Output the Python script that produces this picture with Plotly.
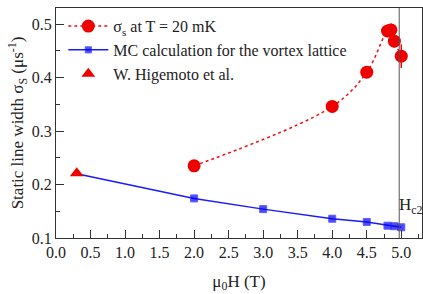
import plotly.graph_objects as go

# data
field_sigma = [2.0, 4.0, 4.5, 4.8, 4.85, 4.9, 5.0]
sigma_s = [0.235, 0.346, 0.410, 0.487, 0.489, 0.468, 0.440]
sigma_err = [0.006, 0.008, 0.010, 0.012, 0.012, 0.012, 0.022]

field_mc = [0.3, 2.0, 3.0, 4.0, 4.5, 4.8, 4.9, 5.0]
sigma_mc = [0.220, 0.174, 0.154, 0.136, 0.130, 0.123, 0.122, 0.120]

field_hig = [0.3]
sigma_hig = [0.221]

hc2 = 4.97

font = "Liberation Serif"

fig = go.Figure()
fig.add_trace(go.Scatter(
    x=field_sigma, y=sigma_s, mode="lines+markers",
    name="σ<sub>s</sub> at T = 20 mK",
    line=dict(color="#ee1111", width=1.5, dash="dot", shape="spline"),
    marker=dict(symbol="circle", color="#ee0000", size=13),
    error_y=dict(type="data", array=sigma_err, color="#ee0000", thickness=1.5, width=0),
))
fig.add_trace(go.Scatter(
    x=field_mc, y=sigma_mc, mode="lines+markers",
    name="MC calculation for the vortex lattice",
    line=dict(color="#1a1aff", width=1.5),
    marker=dict(symbol="square", color="#0000ee",
                size=[0] + [7] * (len(field_mc) - 1)),
))
fig.add_trace(go.Scatter(
    x=field_hig, y=sigma_hig, mode="markers",
    name="W. Higemoto et al.",
    marker=dict(symbol="triangle-up", color="#ee0000", size=12),
))

fig.add_shape(type="line", x0=hc2, x1=hc2, y0=0, y1=1, xref="x", yref="paper",
              line=dict(color="#555555", width=1))
fig.add_annotation(x=hc2, y=0.16, xref="x", yref="y", text="H<sub>c2</sub>",
                   showarrow=False, xanchor="left", yanchor="middle", xshift=-2,
                   font=dict(family=font, size=17, color="#222"))

fig.update_layout(
    width=423, height=294,
    margin=dict(l=56, r=1, t=8, b=56),
    paper_bgcolor="white", plot_bgcolor="white",
    font=dict(family=font, size=14, color="#222"),
    legend=dict(x=0.02, y=0.995, xanchor="left", yanchor="top",
                bgcolor="rgba(0,0,0,0)", traceorder="normal",
                font=dict(family=font, size=16), tracegroupgap=0,
                itemwidth=40),
    showlegend=True,
)
fig.update_xaxes(
    range=[0, 5.3], dtick=0.5, tick0=0, tickformat=".1f",
    showline=True, linecolor="#333", linewidth=1.2, mirror=True,
    ticks="inside", ticklen=8, tickcolor="#333",
    minor=dict(dtick=0.25, ticklen=4, tickcolor="#333", ticks="inside"),
    showgrid=False, zeroline=False,
    title=dict(text="μ<sub>0</sub>H (T)", font=dict(family=font, size=17), standoff=14),
    tickfont=dict(family=font, size=16),
)
fig.update_yaxes(
    range=[0.1, 0.53], dtick=0.1, tick0=0.1, tickformat=".1f",
    showline=True, linecolor="#333", linewidth=1.2, mirror=True,
    ticks="inside", ticklen=8, tickcolor="#333",
    minor=dict(dtick=0.05, ticklen=4, tickcolor="#333", ticks="inside"),
    showgrid=False, zeroline=False,
    title=dict(text="Static line width σ<sub>S</sub> (μs<sup>-1</sup>)", font=dict(family=font, size=17), standoff=3),
    tickfont=dict(family=font, size=16),
)

fig.write_html("out.html")
